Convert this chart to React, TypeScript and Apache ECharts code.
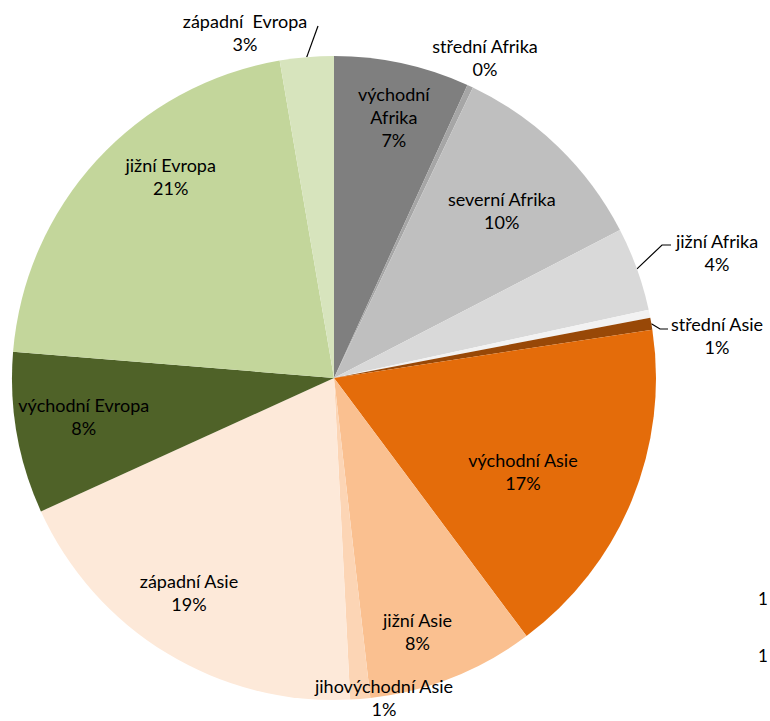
import React, { useEffect, useRef } from 'react';
import * as echarts from 'echarts';

// ---- data ----
const categories = [
  'východní Afrika', 'střední Afrika', 'severní Afrika', 'jižní Afrika', 'západní Afrika',
  'střední Asie', 'východní Asie', 'jižní Asie', 'jihovýchodní Asie', 'západní Asie',
  'východní Evropa', 'jižní Evropa', 'západní Evropa',
];
const values = [6.8, 0.3, 10.3, 4.2, 0.4, 0.6, 17.2, 8.4, 1.0, 19.0, 8.1, 21.0, 2.7];
const labelNames = [
  'východní\nAfrika', 'střední Afrika', 'severní Afrika', 'jižní Afrika', '',
  'střední Asie', 'východní Asie', 'jižní Asie', 'jihovýchodní Asie', 'západní Asie',
  'východní Evropa', 'jižní Evropa', 'západní  Evropa',
];
const legendTicks = ['1', '1'];

// ---- styles / layout ----
const colors = [
  '#7f7f7f', '#a6a6a6', '#bfbfbf', '#d9d9d9', '#f2f2f2',
  '#984807', '#e46c0a', '#fac090', '#fcd5b5', '#fde9d9',
  '#4f6228', '#c3d69b', '#d7e4bd',
];
const labelMode = ['in', 'out', 'in', 'out', 'none', 'out', 'in', 'in', 'out', 'in', 'in', 'in', 'out'];
const inShift: Record<number, [number, number]> = {
  0: [6, -13], 2: [-9, 15], 6: [-46, -3], 7: [-10, 17], 9: [-13, -2], 10: [0, -5], 11: [24, -30],
};
const outPos: Record<number, { x: number; y: number; line?: number[][] }> = {
  1: { x: 485, y: 57 },
  3: { x: 717, y: 252, line: [[662, 245], [671, 245]] },
  5: { x: 717, y: 335, line: [[660, 329], [668, 329]] },
  8: { x: 384, y: 697 },
  12: { x: 245, y: 32, line: [[318, 26]] },
};
const legendY = [598, 655];

const FONT = 'Lato, "Noto Sans", sans-serif';
const CX = 334, CY = 378, R = 322;

export default function App() {
  const ref = useRef<HTMLDivElement>(null);
  useEffect(() => {
    if (!ref.current) return;
    const chart = echarts.init(ref.current, undefined, { renderer: 'svg' });
    const fmt = (p: any) => `${labelNames[p.dataIndex]}\n${Math.round(values[p.dataIndex])}%`;
    const textStyle = { color: '#000', fontSize: 18, fontFamily: FONT, lineHeight: 23 };

    const sliceData = categories.map((c, i) => ({
      name: c,
      value: values[i],
      itemStyle: { color: colors[i] },
      label: { show: labelMode[i] === 'out' },
      labelLine: { show: !!(outPos[i] && outPos[i].line) },
    }));
    const labelData = categories.map((c, i) => ({
      name: c,
      value: values[i],
      label: { show: labelMode[i] === 'in' },
    }));

    chart.setOption({
      animation: false,
      graphic: legendTicks.map((t, i) => ({
        type: 'text',
        x: 763,
        y: legendY[i],
        style: { text: t, fill: '#000', fontSize: 17, fontFamily: FONT, align: 'center', verticalAlign: 'middle' },
      })),
      series: [
        {
          type: 'pie',
          center: [CX, CY],
          radius: [0, R],
          startAngle: 90,
          clockwise: true,
          avoidLabelOverlap: false,
          silent: true,
          itemStyle: { borderWidth: 0 },
          label: { position: 'outside', formatter: fmt, ...textStyle },
          labelLine: { show: true, length: 10, length2: 10, lineStyle: { color: '#000', width: 1.2 } },
          labelLayout: (p: any) => {
            const o = outPos[p.dataIndex];
            if (!o) return {};
            const res: any = { x: o.x, y: o.y, align: 'center', verticalAlign: 'middle' };
            if (o.line && p.labelLinePoints) {
              res.labelLinePoints = [p.labelLinePoints[0], ...o.line];
            }
            return res;
          },
          data: sliceData,
        },
        {
          type: 'pie',
          center: [CX, CY],
          radius: [180, R],
          startAngle: 90,
          clockwise: true,
          avoidLabelOverlap: false,
          silent: true,
          itemStyle: { color: 'rgba(0,0,0,0)', borderWidth: 0 },
          label: { position: 'inside', formatter: fmt, ...textStyle },
          labelLine: { show: false },
          labelLayout: (p: any) => {
            const s = inShift[p.dataIndex];
            if (!s) return {};
            return { dx: s[0], dy: s[1] };
          },
          data: labelData,
        },
      ],
    });
    return () => chart.dispose();
  }, []);
  return (
    <div
      ref={ref}
      style={{ position: 'fixed', left: 0, top: 0, width: 770, height: 721, background: '#fff' }}
    />
  );
}
